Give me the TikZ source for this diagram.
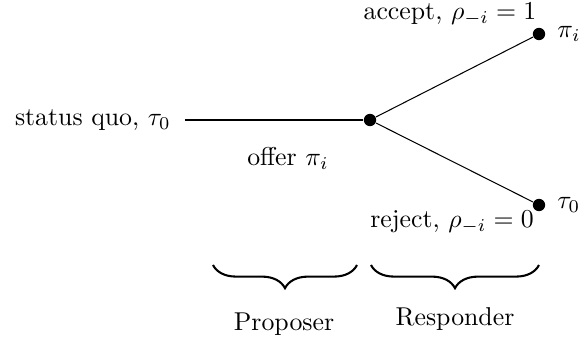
\documentclass[tikz,border=0pt]{standalone}
\usetikzlibrary{positioning,decorations.pathreplacing}
\tikzset{
  dot/.style  = {circle, fill=black, inner sep=0pt, minimum size=4.8pt},
  lbl/.style  = {font=\normalsize},
  brc/.style  = {decorate, decoration={brace, mirror, amplitude=9pt}, thick}
}
\begin{document}
\begin{tikzpicture}[x=0.01363cm, y=-0.01363cm]
  \useasboundingbox (0,0) rectangle (582,341);
  \coordinate (sq) at (185,120);
  \node[lbl, left=2pt of sq] (sqlbl) {status quo, $\tau_0$};
  \node[dot] (mid) at (370,120) {};
  \node[dot] (acc) at (539,34) {};
  \node[dot] (rej) at (539,205) {};
  \node[lbl, right=1pt of acc] (pi) {$\pi_i$};
  \node[lbl, right=1pt of rej] (tau) {$\tau_0$};
  \node[lbl] (acclbl) at (450,14) {accept, $\rho_{-i}=1$};
  \node[lbl] (rejlbl) at (452,222) {reject, $\rho_{-i}=0$};
  \node[lbl] (offer) at (288,158) {offer $\pi_i$};
  \draw (sq) -- (mid);
  \draw (mid) -- (acc);
  \draw (mid) -- (rej);
  % braces for the two movers
  \coordinate (b1a) at (213,265);
  \coordinate (b1b) at (357,265);
  \coordinate (b2a) at (371,265);
  \coordinate (b2b) at (539,265);
  \draw[brc] (b1a) -- (b1b);
  \draw[brc] (b2a) -- (b2b);
  \node[lbl] (prop) at (284,324) {Proposer};
  \node[lbl] (resp) at (455,319) {Responder};
\end{tikzpicture}
\end{document}
